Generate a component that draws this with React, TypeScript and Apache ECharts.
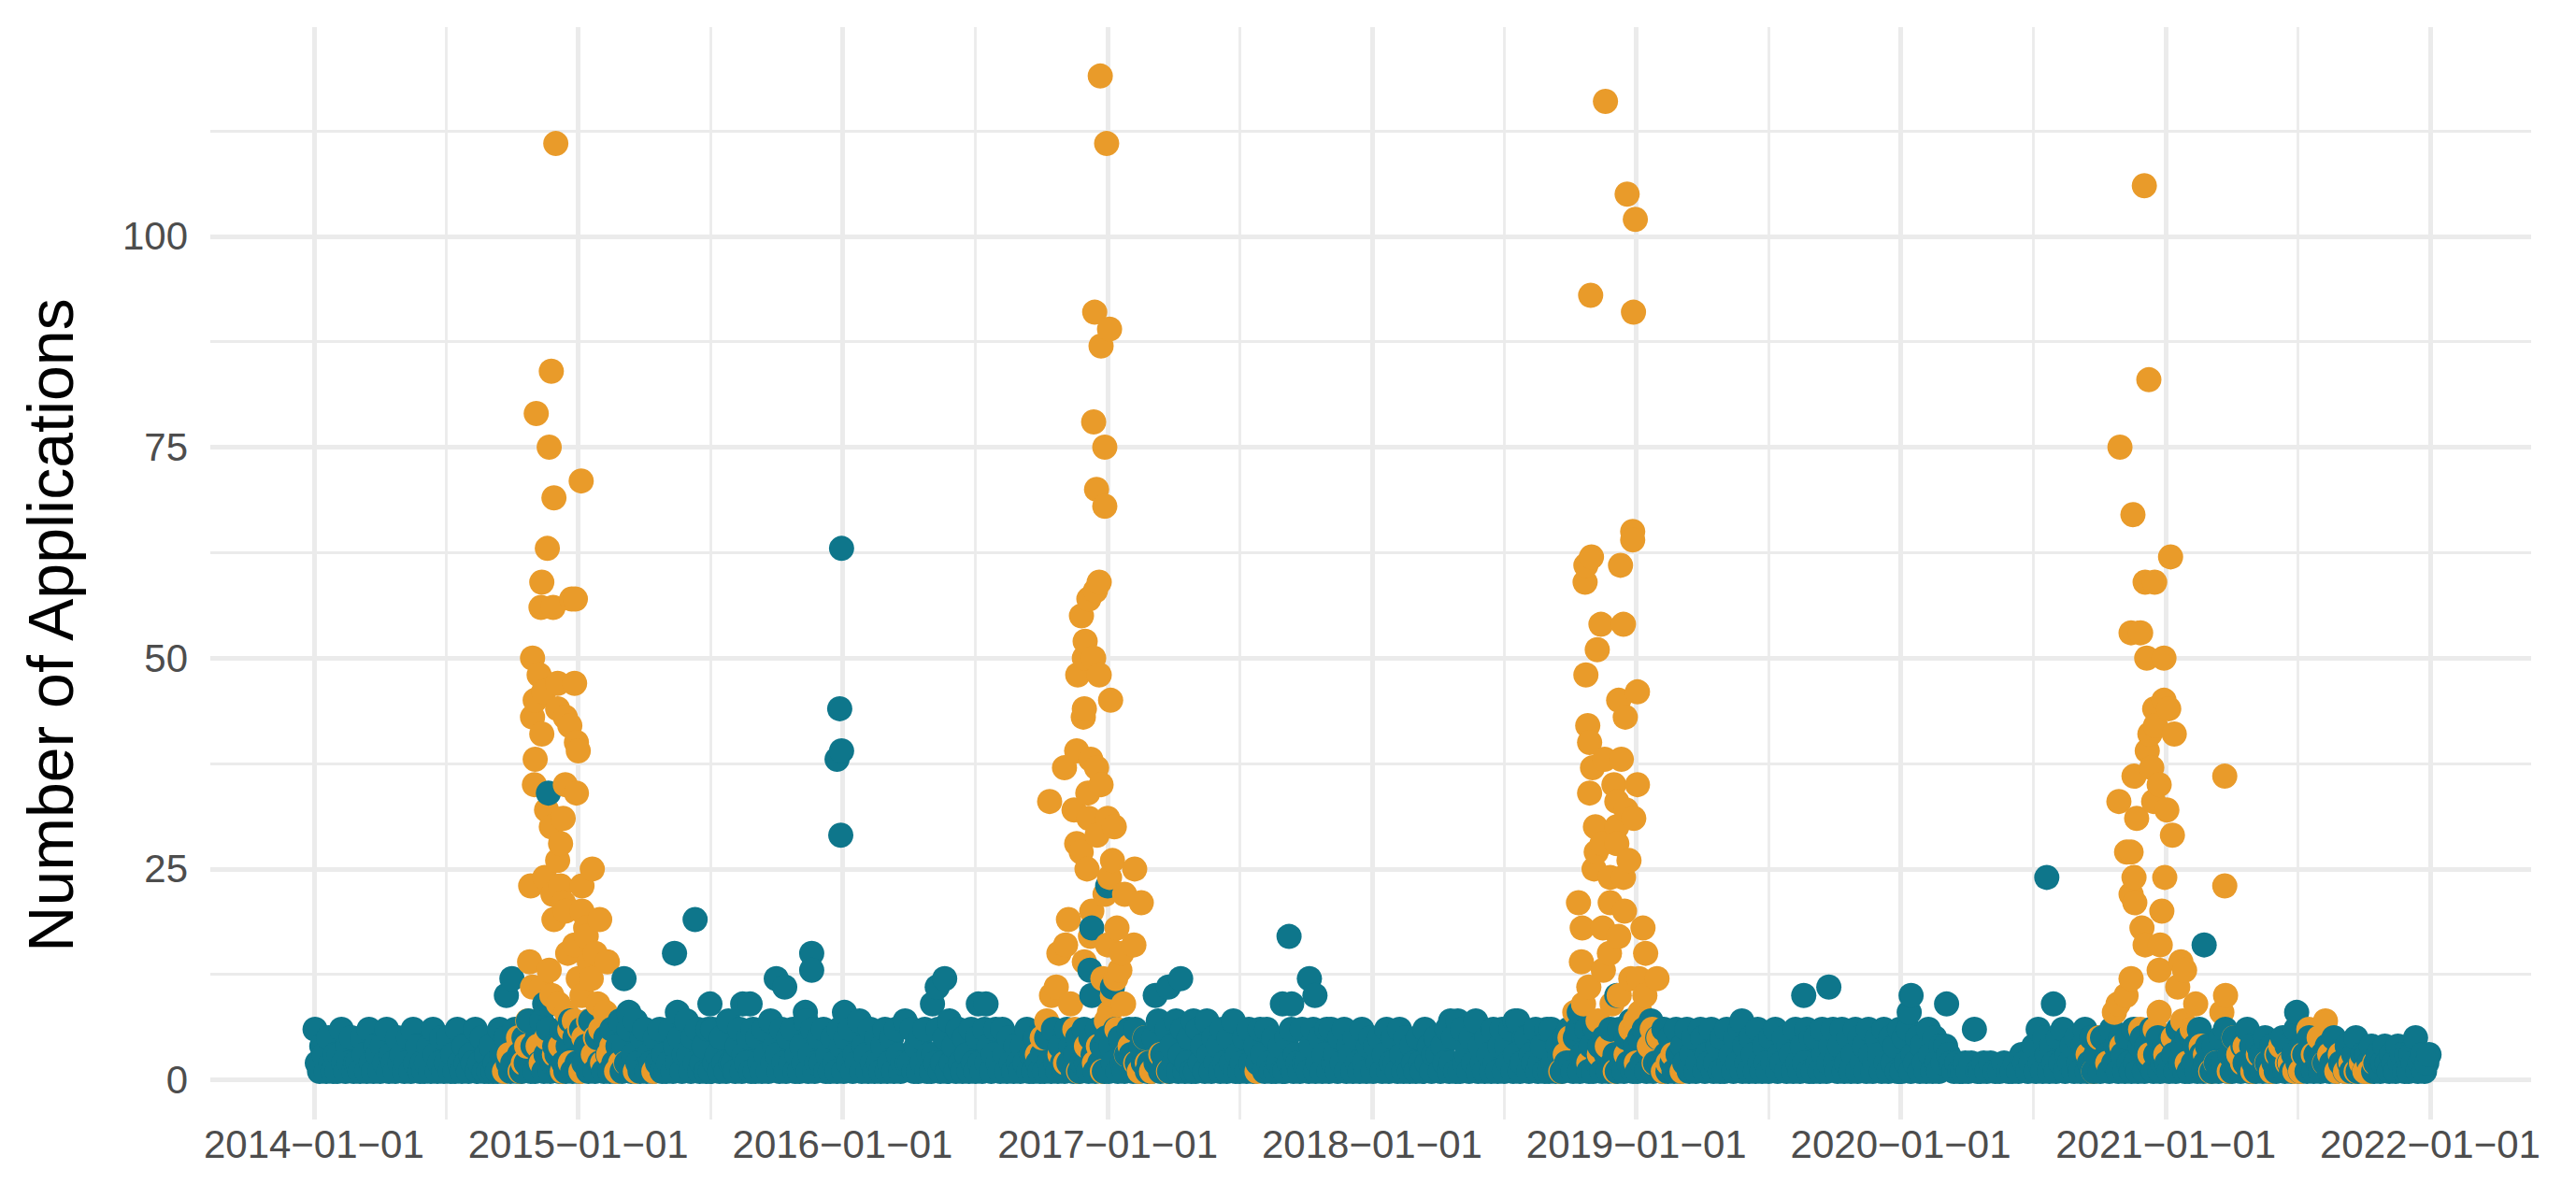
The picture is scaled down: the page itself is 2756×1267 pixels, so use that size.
import React, { useEffect, useRef } from "react";
import * as echarts from "echarts";

// ---------- styling constants ----------
const TEAL = "#0E768B";
const ORANGE = "#E99B2A";
const GRID_COLOR = "#EBEBEB";
const TICK_COLOR = "#4D4D4D";
const FONT = "'Liberation Sans', Arial, Helvetica, sans-serif";

// ---------- axis / tick data ----------
const yTitle = "Number of Applications";
const yMajorTicks = [0, 25, 50, 75, 100];
const yMinorTicks = [12.5, 37.5, 62.5, 87.5, 112.5];
const xMajorYears = [2014, 2015, 2016, 2017, 2018, 2019, 2020, 2021, 2022];
const xMinorYears = [2014, 2015, 2016, 2017, 2018, 2019, 2020, 2021];
const xRangeDec = [2013.608, 2022.382];
const yRange = [-4.7, 124.8];

// ---------- teal series: everyday counts, one list per month ----------
const teal2014 = [
  [6, 2, 1, 4, 3, 1, 5, 2, 1, 3], [1, 3, 6, 2, 1, 4, 2, 5, 1, 2], [2, 1, 5, 3, 1, 6, 2, 1, 4, 3],
  [1, 4, 2, 6, 1, 3, 2, 1, 5, 2], [3, 1, 2, 5, 1, 6, 2, 4, 1, 2], [1, 2, 4, 1, 6, 3, 1, 2, 5, 1],
  [2, 5, 1, 3, 1, 6, 2, 1, 4, 2], [1, 3, 2, 6, 1, 2, 5, 1, 3, 1], [4, 1, 2, 1, 6, 3, 1, 5, 2, 1],
  [2, 6, 1, 3, 1, 5, 2, 7, 1, 4], [1, 5, 2, 7, 1, 3, 6, 1, 2, 4], [3, 1, 6, 2, 1, 4, 7, 1, 5, 2],
];
const teal2015 = [
  [1, 6, 2, 4, 1, 7, 3, 1, 5, 2], [2, 1, 5, 3, 1, 6, 2, 1, 4, 7], [1, 4, 2, 6, 1, 3, 7, 2, 1, 5],
  [6, 1, 3, 2, 1, 5, 2, 6, 1, 3], [1, 2, 6, 1, 4, 2, 5, 1, 3, 7], [3, 1, 5, 2, 6, 1, 2, 4, 1, 6],
  [1, 6, 2, 3, 1, 5, 2, 1, 7, 2], [2, 1, 4, 6, 1, 3, 2, 5, 1, 6], [1, 5, 2, 1, 6, 3, 1, 7, 2, 4],
  [3, 1, 6, 2, 1, 5, 2, 6, 1, 3], [1, 4, 2, 7, 1, 3, 6, 1, 2, 5], [2, 6, 1, 3, 1, 5, 2, 1, 6, 4],
];
const teal2016 = [
  [1, 5, 2, 6, 1, 3, 2, 7, 1, 4], [3, 1, 6, 2, 1, 5, 2, 1, 4, 6], [1, 2, 5, 1, 6, 3, 1, 2, 7, 2],
  [2, 6, 1, 4, 1, 5, 2, 6, 1, 3], [1, 3, 2, 6, 1, 2, 5, 1, 7, 2], [4, 1, 6, 2, 1, 5, 3, 1, 6, 2],
  [1, 5, 2, 1, 6, 2, 4, 1, 3, 6], [2, 1, 6, 3, 1, 5, 2, 1, 4, 2], [1, 4, 2, 6, 1, 3, 1, 5, 2, 1],
  [3, 1, 5, 2, 1, 6, 2, 1, 4, 2], [1, 6, 2, 4, 1, 3, 5, 1, 2, 6], [2, 1, 5, 3, 1, 6, 2, 4, 1, 5],
];
const teal2017 = [
  [1, 4, 2, 6, 1, 5, 2, 1, 3, 6], [3, 1, 6, 2, 1, 4, 2, 5, 1, 2], [1, 5, 2, 7, 1, 3, 2, 6, 1, 4],
  [2, 7, 1, 3, 6, 1, 2, 5, 1, 7], [1, 6, 2, 4, 1, 7, 3, 1, 5, 2], [4, 1, 6, 2, 1, 5, 2, 7, 1, 3],
  [1, 2, 5, 1, 6, 2, 1, 4, 2, 6], [3, 1, 6, 2, 1, 5, 1, 2, 4, 1], [1, 5, 2, 6, 1, 3, 2, 1, 6, 2],
  [2, 1, 4, 6, 1, 2, 5, 1, 3, 6], [1, 6, 2, 3, 1, 5, 2, 6, 1, 4], [3, 1, 5, 2, 1, 6, 2, 1, 4, 5],
];
const teal2018 = [
  [1, 4, 2, 5, 1, 3, 6, 1, 2, 5], [2, 1, 6, 3, 1, 5, 2, 1, 4, 2], [1, 5, 2, 1, 6, 2, 4, 1, 3, 5],
  [3, 1, 4, 2, 6, 1, 2, 5, 1, 7], [1, 6, 2, 3, 1, 5, 2, 7, 1, 4], [2, 1, 5, 3, 1, 6, 2, 1, 4, 6],
  [1, 4, 2, 6, 1, 3, 7, 1, 2, 5], [5, 1, 3, 2, 6, 1, 2, 4, 1, 6], [1, 6, 2, 1, 4, 3, 1, 5, 2, 6],
  [2, 1, 5, 6, 1, 3, 2, 6, 1, 4], [1, 6, 2, 4, 1, 5, 3, 1, 6, 2], [3, 1, 6, 2, 1, 5, 2, 7, 1, 4],
];
const teal2019 = [
  [1, 5, 2, 6, 1, 3, 7, 1, 2, 5], [2, 1, 6, 3, 1, 5, 2, 1, 6, 3], [1, 4, 2, 6, 1, 3, 5, 1, 2, 6],
  [5, 1, 3, 2, 6, 1, 2, 4, 1, 5], [1, 6, 2, 3, 1, 5, 2, 6, 1, 4], [2, 1, 5, 3, 1, 6, 2, 1, 4, 2],
  [1, 5, 2, 6, 1, 3, 2, 5, 1, 4], [3, 1, 6, 2, 1, 4, 2, 6, 1, 5], [1, 5, 2, 1, 6, 3, 1, 2, 4, 6],
  [2, 1, 4, 6, 1, 2, 5, 1, 3, 6], [1, 5, 2, 4, 1, 6, 3, 1, 2, 5], [3, 1, 6, 2, 1, 5, 2, 4, 1, 6],
];
const teal2020 = [
  [1, 5, 2, 6, 1, 3, 2, 5, 1, 4], [2, 1, 6, 3, 1, 5, 2, 1, 4, 2], [4, 3, 2, 1, 2, 1, 1, 2],
  [1, 2, 6, 1, 1, 2, 1], [2, 1, 1, 2, 1], [1, 2, 1, 3, 2, 1, 2],
  [4, 1, 6, 2, 1, 5, 3, 1, 4, 2], [1, 5, 2, 6, 1, 3, 2, 4, 1, 5], [2, 1, 4, 6, 1, 2, 5, 1, 3, 5],
  [1, 5, 2, 3, 1, 6, 2, 4, 1, 5], [3, 1, 5, 2, 1, 6, 2, 1, 4, 5], [1, 4, 2, 6, 1, 3, 5, 1, 2, 4],
];
const teal2021 = [
  [2, 1, 5, 3, 1, 6, 2, 4, 1, 5], [1, 5, 2, 4, 1, 6, 3, 1, 2, 4], [3, 1, 4, 2, 1, 5, 2, 6, 1, 3],
  [1, 5, 2, 3, 1, 4, 2, 6, 1, 4], [2, 1, 4, 3, 1, 5, 2, 1, 4, 2], [1, 3, 2, 5, 1, 4, 2, 1, 3, 6],
  [2, 1, 4, 3, 1, 5, 2, 1, 3, 2], [1, 3, 2, 4, 1, 2, 5, 1, 3, 2], [2, 1, 4, 2, 1, 3, 5, 1, 2, 3],
  [1, 3, 2, 4, 1, 2, 3, 1, 2, 4], [2, 1, 3, 2, 1, 4, 2, 3, 1, 3], [1, 3, 2, 5, 1, 2, 3, 1, 2, 3],
];
const tealYears: [number, number[][]][] = [
  [2014, teal2014], [2015, teal2015], [2016, teal2016], [2017, teal2017],
  [2018, teal2018], [2019, teal2019], [2020, teal2020], [2021, teal2021],
];

// teal days with higher counts: [date as decimal year, applications]
const tealHigh: [number, number][] = [
  [2014.728, 10], [2014.749, 12], [2014.873, 9], [2014.894, 9], [2014.887, 34],
  [2015.173, 12], [2015.191, 8], [2015.364, 15], [2015.375, 8], [2015.442, 19],
  [2015.498, 9], [2015.622, 9], [2015.650, 9], [2015.749, 12], [2015.781, 11],
  [2015.859, 8], [2015.883, 15], [2015.883, 13], [2015.996, 63], [2015.989, 44],
  [2015.996, 39], [2015.979, 38], [2015.993, 29], [2016.007, 8], [2016.339, 9],
  [2016.357, 11], [2016.385, 12], [2016.512, 9], [2016.541, 9], [2016.933, 13],
  [2016.940, 18], [2017.000, 23], [2016.940, 10], [2017.018, 11], [2017.180, 10],
  [2017.230, 11], [2017.276, 12], [2017.661, 9], [2017.686, 17], [2017.696, 9],
  [2017.763, 12], [2017.784, 10], [2018.297, 7], [2018.541, 7], [2018.784, 8],
  [2018.926, 10], [2019.399, 7], [2019.633, 10], [2019.728, 11], [2020.032, 8],
  [2020.039, 10], [2020.173, 9], [2020.551, 24], [2020.576, 9], [2021.145, 16],
  [2021.495, 8],
];

// ---------- orange series: seasonal peaks [date as decimal year, applications] ----------
const orange2014: [number, number][] = [
  [2014.915, 111], [2014.898, 84], [2014.841, 79], [2014.890, 75], [2015.011, 71], [2014.908, 69],
  [2014.883, 63], [2014.862, 59], [2014.859, 56], [2014.905, 56], [2014.975, 57], [2014.989, 57],
  [2014.827, 50], [2014.852, 48], [2014.922, 47], [2014.986, 47], [2014.869, 46], [2014.837, 45],
  [2014.922, 44], [2014.827, 43], [2014.951, 43], [2014.968, 42], [2014.862, 41], [2014.993, 40],
  [2015.000, 39], [2014.837, 38], [2014.834, 35], [2014.951, 35], [2014.993, 34], [2014.880, 32],
  [2014.943, 31], [2014.898, 30], [2014.933, 28], [2014.922, 26], [2015.053, 25], [2014.873, 24],
  [2014.820, 23], [2014.933, 23], [2015.014, 23], [2014.904, 22], [2014.944, 21], [2014.951, 20],
  [2015.014, 20], [2014.908, 19], [2015.081, 19], [2015.028, 18], [2015.030, 17], [2014.986, 16],
  [2015.064, 15], [2014.960, 15], [2014.816, 14], [2015.110, 14], [2015.042, 14], [2014.890, 13],
  [2015.000, 12], [2015.049, 12], [2014.827, 11], [2014.862, 11], [2015.014, 10], [2014.900, 10],
  [2015.074, 9], [2014.925, 9], [2015.102, 8], [2014.955, 8], [2014.809, 7], [2015.039, 7],
  [2014.985, 7], [2014.968, 6], [2015.005, 6], [2015.085, 6], [2014.774, 5], [2015.021, 5],
  [2014.880, 5], [2015.065, 5], [2014.933, 4], [2015.127, 4], [2014.848, 4], [2014.805, 4],
  [2014.739, 3], [2015.057, 3], [2014.910, 3], [2015.115, 3], [2014.792, 2], [2015.092, 2],
  [2015.180, 2], [2014.970, 2], [2014.860, 2], [2015.160, 2], [2014.721, 1], [2015.145, 1],
  [2015.216, 1], [2015.286, 1], [2015.010, 1], [2014.940, 1], [2014.780, 1],
];
const orange2016: [number, number][] = [
  [2016.972, 119], [2016.996, 111], [2016.951, 91], [2017.007, 89], [2016.975, 87], [2016.947, 78],
  [2016.989, 75], [2016.958, 70], [2016.989, 68], [2016.968, 59], [2016.954, 58], [2016.929, 57],
  [2016.901, 55], [2016.915, 52], [2016.947, 50], [2016.912, 50], [2016.887, 48], [2016.968, 48],
  [2017.011, 45], [2016.912, 44], [2016.908, 43], [2016.883, 39], [2016.936, 38], [2016.837, 37],
  [2016.958, 37], [2016.975, 35], [2016.925, 34], [2016.781, 33], [2016.873, 32], [2016.929, 31],
  [2017.000, 31], [2017.025, 30], [2016.960, 29], [2016.883, 28], [2016.900, 27], [2017.018, 26],
  [2016.922, 25], [2017.102, 25], [2017.007, 24], [2017.064, 22], [2016.990, 22], [2017.127, 21],
  [2016.940, 20], [2016.852, 19], [2017.035, 18], [2016.935, 17], [2016.841, 16], [2017.000, 16],
  [2017.099, 16], [2016.816, 15], [2017.053, 15], [2016.912, 14], [2017.046, 13], [2016.982, 12],
  [2017.030, 12], [2016.806, 11], [2017.018, 10], [2016.788, 10], [2016.860, 9], [2017.060, 9],
  [2017.007, 8], [2016.770, 7], [2016.995, 7], [2016.876, 6], [2017.035, 6], [2016.753, 5],
  [2017.141, 5], [2016.965, 4], [2016.920, 4], [2017.085, 4], [2016.735, 3], [2017.071, 3],
  [2017.201, 3], [2016.820, 3], [2016.841, 2], [2017.106, 2], [2016.950, 2], [2017.150, 2],
  [2017.166, 1], [2017.230, 1], [2017.565, 1], [2016.980, 1], [2016.890, 1], [2017.120, 1],
];
const orange2018: [number, number][] = [
  [2018.883, 116], [2018.965, 105], [2018.996, 102], [2018.827, 93], [2018.989, 91], [2018.986, 65],
  [2018.986, 64], [2018.830, 62], [2018.809, 61], [2018.940, 61], [2018.806, 59], [2018.866, 54],
  [2018.951, 54], [2018.852, 51], [2018.809, 48], [2019.004, 46], [2018.933, 45], [2018.958, 43],
  [2018.816, 42], [2018.823, 40], [2018.880, 38], [2018.943, 38], [2018.834, 37], [2019.004, 35],
  [2018.915, 35], [2018.823, 34], [2018.926, 33], [2018.961, 32], [2018.990, 31], [2018.926, 30],
  [2018.845, 30], [2018.848, 27], [2018.926, 28], [2018.870, 28], [2018.972, 26], [2018.840, 25],
  [2018.901, 24], [2018.951, 24], [2018.901, 21], [2018.781, 21], [2018.955, 20], [2018.795, 18],
  [2018.873, 18], [2019.025, 18], [2018.933, 17], [2019.035, 15], [2018.898, 15], [2018.792, 14],
  [2018.875, 13], [2019.078, 12], [2018.979, 12], [2019.010, 12], [2018.820, 11], [2019.032, 10],
  [2018.935, 10], [2018.908, 9], [2018.800, 9], [2018.767, 8], [2019.014, 8], [2018.855, 7],
  [2018.996, 7], [2018.979, 6], [2019.060, 6], [2018.749, 5], [2019.085, 5], [2019.049, 4],
  [2018.890, 4], [2018.731, 3], [2019.138, 3], [2018.961, 3], [2018.860, 3], [2019.067, 2],
  [2018.820, 2], [2019.000, 2], [2019.120, 2], [2019.102, 1], [2019.173, 1], [2018.714, 1],
  [2018.920, 1],
];
const orange2020: [number, number][] = [
  [2020.919, 106], [2020.936, 83], [2020.827, 75], [2020.876, 67], [2021.018, 62], [2020.922, 59],
  [2020.958, 59], [2020.869, 53], [2020.905, 53], [2020.928, 50], [2020.993, 50], [2020.993, 45],
  [2021.011, 44], [2020.958, 44], [2020.961, 42], [2021.032, 41], [2020.940, 41], [2020.930, 39],
  [2020.947, 37], [2021.223, 36], [2020.880, 36], [2020.975, 35], [2020.823, 33], [2020.954, 33],
  [2021.004, 32], [2020.890, 31], [2021.025, 29], [2020.852, 27], [2020.869, 27], [2020.996, 24],
  [2020.880, 24], [2021.223, 23], [2020.869, 22], [2020.883, 21], [2020.985, 20], [2020.910, 18],
  [2020.922, 16], [2020.979, 16], [2021.057, 14], [2021.071, 13], [2020.975, 13], [2020.869, 12],
  [2021.045, 11], [2021.226, 10], [2020.850, 10], [2020.820, 9], [2021.113, 9], [2020.806, 8],
  [2021.212, 8], [2020.975, 8], [2021.604, 7], [2021.064, 7], [2021.541, 6], [2020.905, 6],
  [2020.960, 6], [2021.100, 6], [2020.749, 5], [2021.028, 5], [2021.258, 5], [2021.580, 5],
  [2020.834, 4], [2021.134, 4], [2021.435, 4], [2021.300, 4], [2020.707, 3], [2020.940, 3],
  [2021.276, 3], [2021.558, 3], [2021.000, 3], [2021.620, 3], [2020.781, 2], [2021.081, 2],
  [2021.382, 2], [2021.700, 2], [2021.460, 2], [2020.728, 1], [2021.170, 1], [2021.329, 1],
  [2021.488, 1], [2021.647, 1], [2021.753, 1], [2021.150, 3], [2021.190, 2], [2021.240, 1],
  [2021.290, 2], [2021.350, 3], [2021.400, 1], [2021.420, 3], [2021.470, 2], [2021.510, 1],
  [2021.520, 3], [2021.600, 2], [2021.660, 3], [2021.680, 1], [2021.720, 1], [2021.740, 2],
  [2021.770, 1], [2021.790, 2],
];

// ---------- helpers ----------
function decToTime(d: number): number {
  const y = Math.floor(d);
  const s = Date.UTC(y, 0, 1);
  const e = Date.UTC(y + 1, 0, 1);
  return s + (d - y) * (e - s);
}

function buildTeal(): [number, number][] {
  const pts: [number, number][] = [];
  tealYears.forEach(([yr, months]) => {
    months.forEach((vals, m) => {
      const s = Date.UTC(yr, m, 1);
      const e = Date.UTC(yr, m + 1, 1);
      vals.forEach((v, i) => pts.push([s + ((i + 0.5) / vals.length) * (e - s), v]));
    });
  });
  tealHigh.forEach(([d, v]) => pts.push([decToTime(d), v]));
  return pts;
}

function buildOrange(): [number, number][] {
  return [...orange2014, ...orange2016, ...orange2018, ...orange2020].map(
    ([d, v]) => [decToTime(d), v] as [number, number]
  );
}

// both groups in one date-ordered layer, so that they overlap day by day as in the original
function buildPoints() {
  const items = [
    ...buildOrange().map((p) => ({ value: p, itemStyle: { color: ORANGE } })),
    ...buildTeal().map((p) => ({ value: p, itemStyle: { color: TEAL } })),
  ];
  items.sort((a, b) => a.value[0] - b.value[0]);
  return items;
}

const MINUS = "\u2212";

function gridLines() {
  const labelBase = { color: TICK_COLOR, fontSize: 42, fontFamily: FONT };
  const items: any[] = [];
  yMinorTicks.forEach((v) =>
    items.push({ yAxis: v, lineStyle: { color: GRID_COLOR, width: 2.8, type: "solid" }, label: { show: false } })
  );
  xMinorYears.forEach((y) =>
    items.push({
      xAxis: (Date.UTC(y, 0, 1) + Date.UTC(y + 1, 0, 1)) / 2,
      lineStyle: { color: GRID_COLOR, width: 2.8, type: "solid" },
      label: { show: false },
    })
  );
  yMajorTicks.forEach((v) =>
    items.push({
      yAxis: v,
      lineStyle: { color: GRID_COLOR, width: 5, type: "solid" },
      label: { ...labelBase, show: true, position: "start", distance: 24, formatter: String(v) },
    })
  );
  xMajorYears.forEach((y) =>
    items.push({
      xAxis: Date.UTC(y, 0, 1),
      lineStyle: { color: GRID_COLOR, width: 5, type: "solid" },
      label: {
        ...labelBase,
        show: true,
        position: "start",
        distance: 5,
        formatter: `${y}${MINUS}01${MINUS}01`,
      },
    })
  );
  return items;
}

export default function App() {
  const ref = useRef<HTMLDivElement>(null);
  useEffect(() => {
    if (!ref.current) return;
    const chart = echarts.init(ref.current, null, { renderer: "svg" });
    const option: any = {
      animation: false,
      backgroundColor: "#ffffff",
      grid: { left: 225, right: 48, top: 29, bottom: 69, containLabel: false },
      xAxis: {
        type: "time",
        min: decToTime(xRangeDec[0]),
        max: decToTime(xRangeDec[1]),
        axisLine: { show: false },
        axisTick: { show: false },
        axisLabel: { show: false },
        splitLine: { show: false },
      },
      yAxis: {
        type: "value",
        min: yRange[0],
        max: yRange[1],
        axisLine: { show: false },
        axisTick: { show: false },
        axisLabel: { show: false },
        splitLine: { show: false },
      },
      graphic: [
        {
          type: "text",
          x: 54,
          y: 669,
          rotation: Math.PI / 2,
          silent: true,
          style: {
            text: yTitle,
            fontSize: 68,
            fontFamily: FONT,
            fill: "#000000",
            align: "center",
            verticalAlign: "middle",
            textAlign: "center",
            textVerticalAlign: "middle",
          },
        },
      ],
      series: [
        {
          type: "scatter",
          name: "Applications",
          data: buildPoints(),
          symbol: "circle",
          symbolSize: 27,
          itemStyle: { opacity: 1 },
          silent: true,
          z: 2,
          progressive: 0,
          large: false,
          markLine: {
            silent: true,
            animation: false,
            symbol: ["none", "none"],
            z: 1,
            emphasis: { disabled: true },
            data: gridLines(),
          },
        },
      ],
    };
    chart.setOption(option);
    return () => chart.dispose();
  }, []);
  return (
    <div
      ref={ref}
      style={{ position: "fixed", left: 0, top: 0, width: 2756, height: 1267, background: "#ffffff" }}
    />
  );
}
